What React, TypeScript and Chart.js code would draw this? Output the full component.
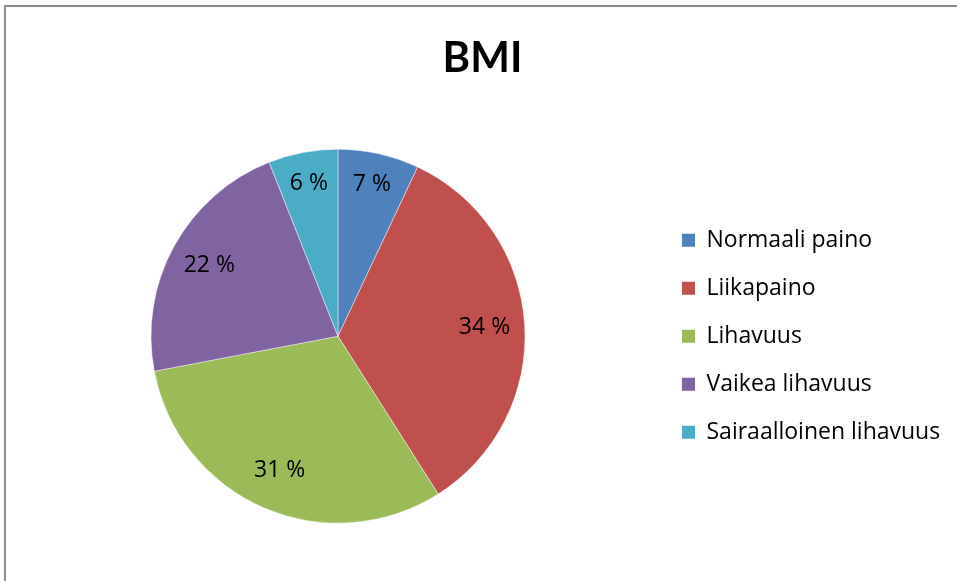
import React, { useEffect, useRef } from "react";
import { Chart, registerables } from "chart.js";

Chart.register(...registerables);

const chartTitle = "BMI";
const categories = [
  "Normaali paino",
  "Liikapaino",
  "Lihavuus",
  "Vaikea lihavuus",
  "Sairaalloinen lihavuus",
];
const shares = [7, 34, 31, 22, 6];
const colors = ["#4F81BD", "#C0504D", "#9BBB59", "#8064A2", "#4BACC6"];

const textFont = "Open Sans";

const sliceLabels = {
  id: "sliceLabels",
  afterDatasetsDraw(chart: any) {
    const ctx = chart.ctx;
    const meta = chart.getDatasetMeta(0);
    const data = chart.data.datasets[0].data as number[];
    ctx.save();
    ctx.font = `23px "${textFont}"`;
    ctx.fillStyle = "#000000";
    ctx.textAlign = "center";
    ctx.textBaseline = "middle";
    meta.data.forEach((arc: any, i: number) => {
      const p = arc.getProps(["x", "y", "startAngle", "endAngle", "outerRadius"], true);
      const mid = (p.startAngle + p.endAngle) / 2;
      const span = p.endAngle - p.startAngle;
      const k = span < 0.7 ? 0.83 : 0.785;
      ctx.fillText(
        `${Math.round(data[i])} %`,
        p.x + Math.cos(mid) * p.outerRadius * k,
        p.y + Math.sin(mid) * p.outerRadius * k
      );
    });
    ctx.restore();
  },
};

export default function App() {
  const canvasRef = useRef<HTMLCanvasElement | null>(null);

  useEffect(() => {
    if (!canvasRef.current) return;
    const chart = new Chart(canvasRef.current, {
      type: "pie",
      data: {
        labels: categories,
        datasets: [
          {
            data: shares,
            backgroundColor: colors,
            borderColor: "rgba(255,255,255,0.45)",
            borderWidth: 1,
            radius: 187,
          } as any,
        ],
      },
      options: {
        responsive: false,
        animation: false,
        events: [],
        layout: { padding: { left: 19, right: 11, top: 0, bottom: 0 } },
        plugins: {
          title: {
            display: true,
            text: chartTitle,
            color: "#000000",
            font: { family: "Lato", size: 42, weight: "bold" },
            padding: { top: 33, bottom: 8 },
          },
          legend: {
            display: true,
            position: "right",
            align: "center",
            fullSize: false,
            maxWidth: 289,
            labels: {
              color: "#000000",
              font: { family: textFont, size: 23 },
              boxWidth: 13,
              boxHeight: 13,
              padding: 25,
              generateLabels: (c: any) =>
                (Chart as any).overrides.pie.plugins.legend.labels
                  .generateLabels(c)
                  .map((l: any) => ({ ...l, lineWidth: 0 })),
            },
          },
          tooltip: { enabled: false },
        },
      },
      plugins: [sliceLabels],
    });
    return () => chart.destroy();
  }, []);

  return (
    <div
      style={{
        position: "fixed",
        left: 0,
        top: 0,
        width: 957,
        height: 581,
        overflow: "hidden",
        background: "#ffffff",
      }}
    >
      <div
        style={{
          position: "absolute",
          left: 4,
          top: 5,
          width: 2000,
          height: 2000,
          border: "2px solid #8c8c8c",
        }}
      />
      <canvas
        ref={canvasRef}
        width={957}
        height={581}
        style={{ position: "absolute", left: 0, top: 0 }}
      />
    </div>
  );
}
